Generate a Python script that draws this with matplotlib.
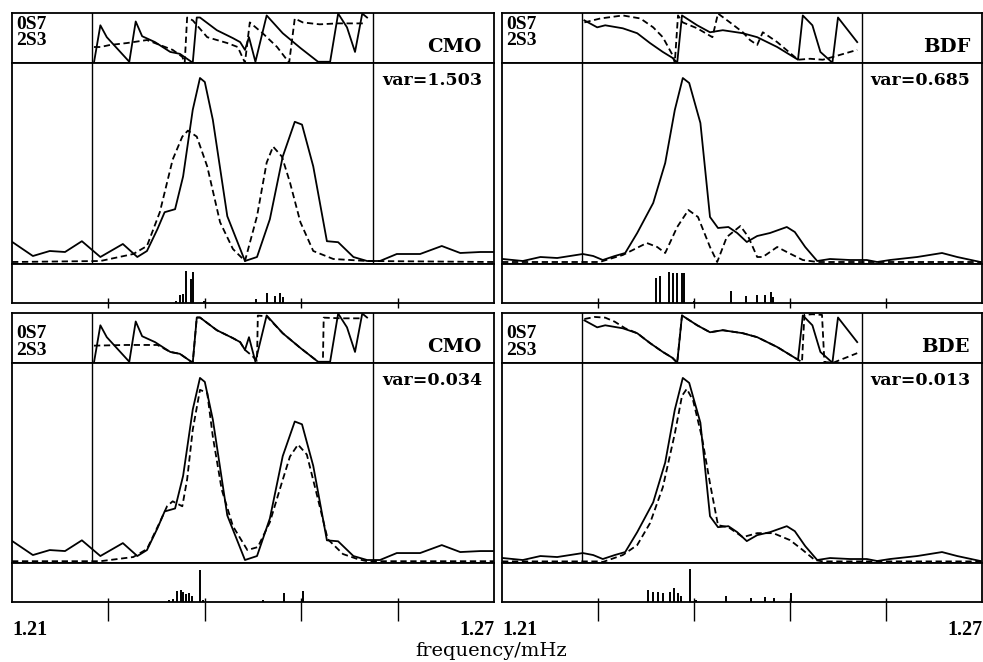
import matplotlib.pyplot as plt

# ---- data ------------------------------------------------------------
# frequency in mHz, amplitude in % of panel height, phase in degrees

# observed amplitude (solid), left station (CMO)
f_cmo_obs = [1.2100, 1.2126, 1.2147, 1.2166, 1.2187, 1.2210, 1.2238, 1.2256, 1.2268,
             1.2281, 1.2290, 1.2303, 1.2313, 1.2325, 1.2334, 1.2340, 1.2350, 1.2368,
             1.2390, 1.2405, 1.2421, 1.2437, 1.2452, 1.2461, 1.2475, 1.2492, 1.2506,
             1.2525, 1.2542, 1.2558, 1.2579, 1.2608, 1.2635, 1.2658, 1.2683, 1.2700]
a_cmo_obs = [10.6, 3.5, 6.0, 5.5, 10.9, 3.0, 9.5, 3.0, 6.0,
             16.9, 25.4, 26.9, 43.3, 76.6, 92.5, 90.5, 71.6, 23.4,
             1.0, 3.0, 21.9, 53.2, 70.6, 69.2, 48.3, 10.9, 10.4,
             3.0, 1.0, 1.0, 4.5, 4.5, 8.5, 5.0, 5.5, 5.5]

# synthetic amplitude (dashed), CMO, starting model
f_cmo_syn0 = [1.2100, 1.2210, 1.2251, 1.2268, 1.2284, 1.2300, 1.2312, 1.2319, 1.2330,
              1.2343, 1.2359, 1.2375, 1.2390, 1.2405, 1.2417, 1.2425, 1.2436, 1.2446,
              1.2459, 1.2475, 1.2500, 1.2542, 1.2700]
a_cmo_syn0 = [0.5, 1.0, 4.5, 8.5, 25.4, 51.7, 63.2, 66.2, 63.2,
              48.3, 20.4, 7.0, 1.0, 23.4, 50.2, 58.2, 53.2, 40.3,
              20.4, 6.0, 2.0, 1.0, 0.5]

# synthetic amplitude (dashed), CMO, final model
f_cmo_syn1 = [1.2100, 1.2210, 1.2251, 1.2268, 1.2284, 1.2293, 1.2300, 1.2312, 1.2318,
              1.2325, 1.2334, 1.2343, 1.2350, 1.2361, 1.2375, 1.2393, 1.2406, 1.2421,
              1.2436, 1.2446, 1.2456, 1.2467, 1.2480, 1.2493, 1.2512, 1.2530, 1.2542,
              1.2700]
a_cmo_syn1 = [0.4, 0.4, 2.5, 6.5, 20.0, 28.0, 30.5, 28.0, 41.5,
              66.5, 86.5, 85.0, 63.0, 36.5, 18.0, 6.0, 7.5, 20.0,
              40.0, 53.0, 59.0, 54.0, 33.0, 11.5, 4.0, 1.5, 0.4,
              0.4]

# observed amplitude (solid), right station
f_bd_obs = [1.2101, 1.2126, 1.2148, 1.2169, 1.2201, 1.2214, 1.2226, 1.2241, 1.2254,
            1.2269, 1.2289, 1.2304, 1.2316, 1.2326, 1.2334, 1.2348, 1.2360, 1.2370,
            1.2383, 1.2394, 1.2406, 1.2419, 1.2435, 1.2456, 1.2466, 1.2479, 1.2494,
            1.2510, 1.2535, 1.2556, 1.2569, 1.2585, 1.2619, 1.2650, 1.2669, 1.2698]
a_bd_obs = [2.0, 1.0, 3.0, 2.5, 4.5, 3.5, 1.5, 3.5, 5.0,
            15.0, 30.0, 50.0, 76.5, 92.5, 90.0, 70.0, 23.0, 17.5,
            18.0, 15.0, 10.5, 13.5, 15.0, 18.0, 15.5, 8.0, 1.0,
            2.0, 1.5, 1.5, 0.5, 1.5, 3.0, 5.0, 3.0, 0.5]

# synthetic amplitude (dashed), BDF, starting model
f_bdf_syn = [1.2100, 1.2223, 1.2226, 1.2251, 1.2281, 1.2294, 1.2304, 1.2319, 1.2333,
             1.2345, 1.2360, 1.2369, 1.2381, 1.2398, 1.2408, 1.2419, 1.2426, 1.2444,
             1.2456, 1.2476, 1.2494, 1.2700]
a_bdf_syn = [0.5, 0.5, 1.0, 4.0, 10.0, 8.0, 5.0, 18.0, 26.5,
             23.0, 8.0, 0.5, 13.0, 18.5, 13.0, 3.0, 3.0, 8.0,
             5.5, 1.5, 0.5, 0.5]

# synthetic amplitude (dashed), BDE, final model
f_bde_syn = [1.2100, 1.2223, 1.2226, 1.2251, 1.2269, 1.2285, 1.2301, 1.2316, 1.2325,
             1.2331, 1.2339, 1.2350, 1.2360, 1.2370, 1.2383, 1.2401, 1.2419, 1.2439,
             1.2460, 1.2476, 1.2491, 1.2501, 1.2700]
a_bde_syn = [0.3, 0.3, 0.0, 3.5, 8.5, 19.5, 37.5, 64.5, 83.5,
             87.0, 81.0, 62.5, 39.5, 18.5, 17.5, 12.5, 14.5, 14.5,
             11.0, 6.0, 1.0, 0.3, 0.3]

# phases (wrapped), left station
fp_cmo_obs = [1.2202, 1.2210, 1.2218, 1.2246, 1.2254, 1.2262, 1.2278, 1.2297, 1.2309,
              1.2325, 1.2330, 1.2334, 1.2355, 1.2375, 1.2384, 1.2390, 1.2395, 1.2403,
              1.2417, 1.2437, 1.2459, 1.2481, 1.2496, 1.2506, 1.2517, 1.2527, 1.2536,
              1.2542]
p_cmo_obs = [-180, 94, 7, -173, 122, 14, -29, -101, -115,
             -180, 151, 151, 58, 0, -29, -86, 7, -173,
             166, 36, -72, -173, -173, 180, 79, -101, 180,
             151]
fp_cmo_syn0 = [1.2202, 1.2210, 1.2222, 1.2243, 1.2268, 1.2284, 1.2300, 1.2312, 1.2315,
               1.2318, 1.2325, 1.2343, 1.2368, 1.2381, 1.2390, 1.2396, 1.2412, 1.2430,
               1.2445, 1.2452, 1.2462, 1.2483, 1.2505, 1.2525, 1.2537]
p_cmo_syn0 = [-65, -65, -50, -36, -14, -50, -86, -137, -180,
              151, 130, 7, -36, -65, -180, 115, 36, -65,
              -180, 144, 115, 101, 108, 108, 108]
fp_cmo_syn1 = [1.2202, 1.2243, 1.2281, 1.2297, 1.2309, 1.2325, 1.2330, 1.2334, 1.2355,
               1.2375, 1.2384, 1.2390, 1.2399, 1.2405, 1.2406, 1.2417, 1.2437, 1.2459,
               1.2481, 1.2487, 1.2488, 1.2510, 1.2537]
p_cmo_syn1 = [-55, -50, -50, -101, -115, -180, 151, 151, 58,
              0, -29, -86, -130, -165, 165, 160, 36, -72,
              -173, -180, 150, 145, 145]

# phases (wrapped), right station
fp_bd_obs = [1.2203, 1.2219, 1.2229, 1.2251, 1.2269, 1.2285, 1.2301, 1.2313, 1.2319,
             1.2325, 1.2344, 1.2360, 1.2376, 1.2401, 1.2419, 1.2444, 1.2470, 1.2476,
             1.2488, 1.2498, 1.2513, 1.2520, 1.2544]
p_bd_obs = [130, 79, 94, 72, 36, -36, -101, -144, -180,
            166, 94, 43, 58, 36, 7, -65, -158, 166,
            94, -101, -180, 151, -29]
fp_bdf_syn = [1.2203, 1.2223, 1.2251, 1.2273, 1.2289, 1.2301, 1.2313, 1.2316, 1.2320,
              1.2326, 1.2344, 1.2363, 1.2370, 1.2385, 1.2401, 1.2410, 1.2419, 1.2426,
              1.2444, 1.2470, 1.2485, 1.2501, 1.2514, 1.2544]
p_bdf_syn = [115, 144, 166, 144, 79, 7, -122, -180, 166,
             115, 72, 7, 180, 115, 43, -14, -50, 43,
             -29, -158, -151, -158, -137, -86]
fp_bde_syn = [1.2203, 1.2216, 1.2229, 1.2241, 1.2254, 1.2269, 1.2285, 1.2301, 1.2313,
              1.2319, 1.2325, 1.2344, 1.2360, 1.2376, 1.2401, 1.2419, 1.2444, 1.2470,
              1.2475, 1.2478, 1.2488, 1.2500, 1.2503, 1.2514, 1.2544]
p_bde_syn = [140, 155, 150, 120, 72, 36, -36, -101, -144,
             -180, 166, 94, 43, 58, 36, 7, -65, -158,
             -175, 170, 175, 170, -175, -180, -110]

# stick spectra (singlet frequencies, relative strength)
fs_tl = [1.2304, 1.2309, 1.2313, 1.2317, 1.2323, 1.2325, 1.2339,
         1.2404, 1.2417, 1.2427, 1.2433, 1.2437]
hs_tl = [0.05, 0.20, 0.22, 0.82, 0.62, 0.80, 0.05,
         0.10, 0.25, 0.18, 0.25, 0.15]
fs_tr = [1.2293, 1.2298, 1.2309, 1.2314, 1.2319, 1.2325, 1.2328, 1.2340,
         1.2386, 1.2405, 1.2419, 1.2429, 1.2436, 1.2439]
hs_tr = [0.65, 0.68, 0.80, 0.78, 0.78, 0.78, 0.78, 0.05,
         0.30, 0.17, 0.20, 0.20, 0.27, 0.15]
fs_bl = [1.2295, 1.2300, 1.2306, 1.2310, 1.2313, 1.2317, 1.2320, 1.2324, 1.2334, 1.2338,
         1.2413, 1.2438, 1.2462]
hs_bl = [0.05, 0.08, 0.27, 0.30, 0.25, 0.20, 0.22, 0.15, 0.82, 0.05,
         0.05, 0.22, 0.27]
fs_br = [1.2283, 1.2289, 1.2295, 1.2301, 1.2310, 1.2315, 1.2320, 1.2324, 1.2335, 1.2342,
         1.2380, 1.2411, 1.2429, 1.2440, 1.2461]
hs_br = [0.32, 0.25, 0.25, 0.22, 0.25, 0.35, 0.22, 0.15, 0.85, 0.05,
         0.15, 0.10, 0.12, 0.10, 0.22]

stations = ['CMO', 'BDF', 'CMO', 'BDE']
variances = ['var=1.503', 'var=0.685', 'var=0.034', 'var=0.013']
freq_ticks = [1.222, 1.234, 1.246, 1.258]
window = [1.22, 1.255]

panels = [
    (f_cmo_obs, a_cmo_obs, f_cmo_syn0, a_cmo_syn0, fp_cmo_obs, p_cmo_obs, fp_cmo_syn0, p_cmo_syn0, fs_tl, hs_tl),
    (f_bd_obs, a_bd_obs, f_bdf_syn, a_bdf_syn, fp_bd_obs, p_bd_obs, fp_bdf_syn, p_bdf_syn, fs_tr, hs_tr),
    (f_cmo_obs, a_cmo_obs, f_cmo_syn1, a_cmo_syn1, fp_cmo_obs, p_cmo_obs, fp_cmo_syn1, p_cmo_syn1, fs_bl, hs_bl),
    (f_bd_obs, a_bd_obs, f_bde_syn, a_bde_syn, fp_bd_obs, p_bd_obs, fp_bde_syn, p_bde_syn, fs_br, hs_br),
]

# ---- layout (figure fractions) ----------------------------------------
W, H = 983, 662
cols = [(12, 482), (502, 480)]
rows = [(13, 63, 264, 303), (313, 363, 563, 602)]

bold_wide = dict(family='DejaVu Serif', weight='bold')
bold_narrow = dict(family='Liberation Serif', weight='bold')
dash = (0, (3.5, 2))

fig = plt.figure(figsize=(W / 100, H / 100), dpi=100)

for i, (fo, ao, fs, as_, fpo, po, fps, ps, fk, hk) in enumerate(panels):
    r, c = divmod(i, 2)
    x0, w = cols[c]
    y_top, y_m, y_s, y_b = rows[r]
    left, width = x0 / W, w / W

    ax_p = fig.add_axes([left, 1 - y_m / H, width, (y_m - y_top) / H])
    ax_m = fig.add_axes([left, 1 - y_s / H, width, (y_s - y_m) / H])
    ax_s = fig.add_axes([left, 1 - y_b / H, width, (y_b - y_s) / H])

    for ax in (ax_p, ax_m, ax_s):
        ax.set_xlim(1.21, 1.27)
        for sp in ax.spines.values():
            sp.set_linewidth(1.3)
        ax.set_yticks([])

    # phase strip
    ax_p.plot(fpo, po, color='black', lw=1.3)
    ax_p.plot(fps, ps, color='black', lw=1.3, ls=dash)
    ax_p.set_ylim(-182, 184)
    ax_p.set_xticks([])
    for f in window:
        ax_p.axvline(f, color='black', lw=1.0)
    ax_p.text(0.008, 0.68 if r == 0 else 0.50, '0S7', transform=ax_p.transAxes,
              ha='left', va='baseline', fontsize=14, **bold_narrow)
    ax_p.text(0.008, 0.36 if r == 0 else 0.16, '2S3', transform=ax_p.transAxes,
              ha='left', va='baseline', fontsize=14, **bold_narrow)
    ax_p.text(0.975, 0.22, stations[i], transform=ax_p.transAxes,
              ha='right', va='baseline', fontsize=14, **bold_wide)

    # amplitude spectra
    ax_m.plot(fo, ao, color='black', lw=1.3)
    ax_m.plot(fs, as_, color='black', lw=1.3, ls=dash)
    ax_m.set_ylim(-0.5, 100)
    ax_m.set_xticks([])
    for f in window:
        ax_m.axvline(f, color='black', lw=1.0)
    ax_m.text(0.975, 0.955, variances[i], transform=ax_m.transAxes,
              ha='right', va='top', fontsize=12.5, **bold_wide)

    # stick spectrum
    ax_s.vlines(fk, 0, hk, color='black', lw=1.4)
    ax_s.set_ylim(0, 1)
    ax_s.set_xticks(freq_ticks)
    ax_s.set_xticklabels([])
    if r == 0:
        ax_s.tick_params(axis='x', direction='inout', length=7, width=1.0)
    else:
        ax_s.tick_params(axis='x', direction='out', length=14, width=1.0)
        ax_s.vlines(freq_ticks, 0, 0.09, color='black', lw=1.0)
        ax_s.text(0.0, -0.45, '1.21', transform=ax_s.transAxes, ha='left', va='top',
                  fontsize=14.5, **bold_narrow)
        ax_s.text(1.0, -0.45, '1.27', transform=ax_s.transAxes, ha='right', va='top',
                  fontsize=14.5, **bold_narrow)

fig.text(0.5, 1 - 651 / H, 'frequency/mHz', ha='center', va='center',
         fontsize=14, family='DejaVu Serif')

fig.savefig('out.png', dpi=100)
